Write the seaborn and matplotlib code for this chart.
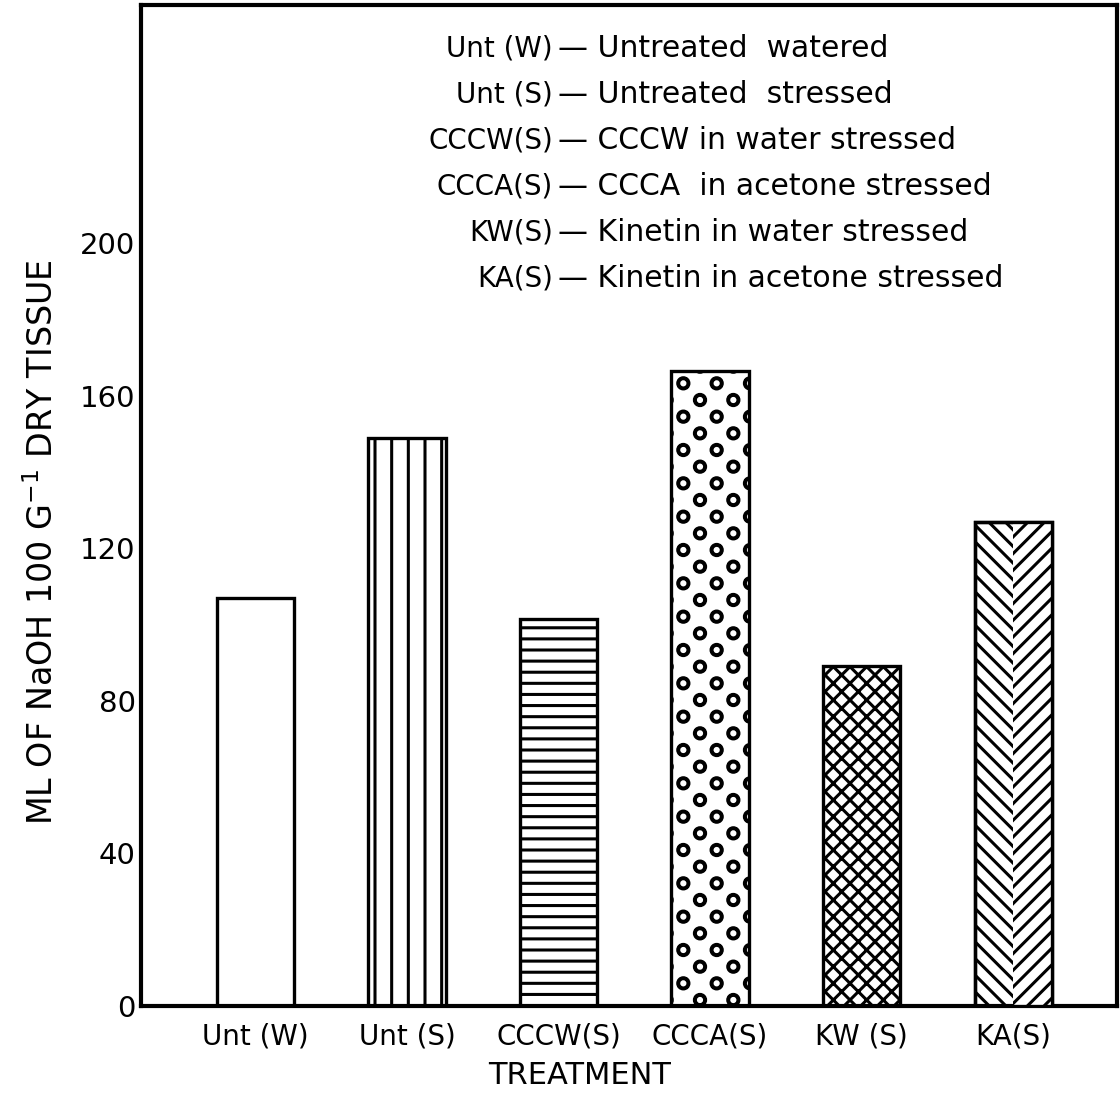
import matplotlib
matplotlib.use('Agg')
import matplotlib.pyplot as plt
import matplotlib.hatch as mhatch
from matplotlib.path import Path
from matplotlib.patches import Rectangle
import seaborn as sns
import pandas as pd
import numpy as np

# Data
treatments = ['Unt (W)', 'Unt (S)', 'CCCW(S)', 'CCCA(S)', 'KW (S)', 'KA(S)']
naoh_ml = [107, 149, 101.5, 166.5, 89, 127]
bar_hatches = ['', '|', '-', 'o', 'xx', '\\\\']
key_codes = ['Unt (W)', 'Unt (S)', 'CCCW(S)', 'CCCA(S)', 'KW(S)', 'KA(S)']
key_texts = ['Untreated  watered', 'Untreated  stressed', 'CCCW in water stressed',
             'CCCA  in acetone stressed', 'Kinetin in water stressed',
             'Kinetin in acetone stressed']
y_ticks = [0, 40, 80, 120, 160, 200]


# sparse ring hatch (the 'o' pattern in the original is much coarser than mpl's)
class SparseRings(mhatch.HatchPatternBase):
    def __init__(self, hatch, density):
        n = hatch.count('o')
        circle = Path.unit_circle()
        self.unit = circle.vertices
        self.unit_codes = circle.codes
        self.centres = []
        if n:
            nx, ny = 3 * n, 6 * n
            for j in range(ny + 1):
                if j % 2 == 0:
                    xs = [i / nx for i in range(nx + 1)]
                else:
                    xs = [(i + 0.5) / nx for i in range(nx)]
                self.centres += [(x, j / ny) for x in xs]
        self.num_vertices = len(self.centres) * len(self.unit) * 2

    def set_vertices_and_codes(self, vertices, codes):
        ring_v = np.concatenate([self.unit * 0.056, self.unit[::-1] * 0.046])
        ring_c = np.concatenate([self.unit_codes, self.unit_codes])
        k = len(ring_v)
        for m, (cx, cy) in enumerate(self.centres):
            vertices[m * k:(m + 1) * k] = ring_v + (cx, cy)
            codes[m * k:(m + 1) * k] = ring_c


# horizontal lines a bit closer together than the default
class FinerHorizontal(mhatch.HorizontalHatch):
    def __init__(self, hatch, density):
        super().__init__(hatch, int(density * 1.5))


mhatch._hatch_types[mhatch._hatch_types.index(mhatch.SmallCircles)] = SparseRings
mhatch._hatch_types[mhatch._hatch_types.index(mhatch.HorizontalHatch)] = FinerHorizontal

sns.set_style('white')
plt.rcParams['font.family'] = ['DejaVu Sans']
plt.rcParams['text.color'] = 'black'
plt.rcParams['axes.labelcolor'] = 'black'
plt.rcParams['xtick.color'] = 'black'
plt.rcParams['ytick.color'] = 'black'
plt.rcParams['hatch.linewidth'] = 2.2
plt.rcParams['hatch.color'] = 'black'

df = pd.DataFrame({'Treatment': treatments, 'NaOH': naoh_ml})

fig = plt.figure(figsize=(11.2, 10.98), dpi=100)
ax = fig.add_axes([0.126, 0.0838, 0.871, 0.9116])
sns.barplot(data=df, x='Treatment', y='NaOH', color='white', saturation=1,
            edgecolor='black', linewidth=2.4, width=0.51, ax=ax)

for patch, h in zip(ax.patches, bar_hatches):
    patch.set_facecolor('white')
    patch.set_hatch(h)

# chevrons on the last bar: right half gets the opposite diagonal
last = ax.patches[len(treatments) - 1]
bx, bw, bh = last.get_x(), last.get_width(), last.get_height()
ax.add_patch(Rectangle((bx + bw / 2, 0), bw / 2, bh, facecolor='white',
                       edgecolor='black', linewidth=0, hatch='//', zorder=3))
ax.add_patch(Rectangle((bx, 0), bw, bh, fill=False, edgecolor='black',
                       linewidth=2.4, zorder=4))

ax.set_xlim(-0.755, 5.683)
ax.set_ylim(0, 262.4)
ax.set_yticks(y_ticks)

for side in ['left', 'right', 'top', 'bottom']:
    ax.spines[side].set_visible(True)
    ax.spines[side].set_linewidth(3)
    ax.spines[side].set_color('black')

ax.tick_params(axis='y', direction='in', length=11, width=1.5, labelsize=21, pad=4)
ax.tick_params(axis='x', length=0, labelsize=20, pad=12)

ax.set_xlabel('TREATMENT', fontsize=22)
ax.xaxis.set_label_coords(0.449, -0.055)
ax.set_ylabel('ML OF NaOH 100 G$^{-1}$ DRY TISSUE', fontsize=24)
ax.yaxis.set_label_coords(-0.083, 0.4635)

# key written inside the plot
for i, (code, txt) in enumerate(zip(key_codes, key_texts)):
    yy = 0.957 - 0.046 * i
    ax.text(0.422, yy, code, transform=ax.transAxes, ha='right', va='center', fontsize=20)
    ax.text(0.427, yy, '\u2014 ' + txt, transform=ax.transAxes, ha='left', va='center', fontsize=21.5)

fig.savefig('out.png', dpi=100)
